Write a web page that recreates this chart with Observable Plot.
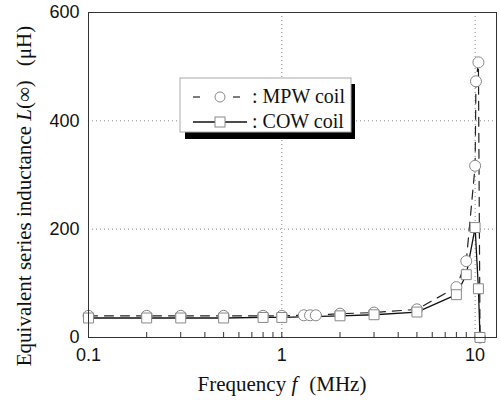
<!DOCTYPE html>
<html><head><meta charset="utf-8">
<script src="https://cdn.jsdelivr.net/npm/d3@7"></script>
<script src="https://cdn.jsdelivr.net/npm/@observablehq/plot@0.6"></script>
<style>body{margin:0;background:#fff}#chart{width:500px;height:400px}</style>
</head><body><div id="chart"></div>
<script>
// MPW coil (dashed line, circles)
const mpwFreq = [0.1, 0.2, 0.3, 0.5, 0.8, 1.0, 1.3, 1.4, 1.5, 2, 3, 5, 8, 9, 10, 10.1, 10.4, 10.6];
const mpwL    = [40, 40, 40, 40, 40, 40, 41, 41, 41, 44, 46, 52, 93, 141, 317, 473, 508, 0];
// COW coil (solid line, squares)
const cowFreq = [0.1, 0.2, 0.3, 0.5, 0.8, 1.0, 2, 3, 5, 8, 9, 10, 10.4, 10.6];
const cowL    = [36, 36, 36, 36, 37, 37, 40, 42, 47, 79, 116, 203, 90, 0];

const xTicks = [0.1, 1, 10];
const xTickLabels = ["0.1", "1", "10"];
const xMinorTicks = [0.2, 0.3, 0.4, 0.5, 0.6, 0.7, 0.8, 0.9, 1, 2, 3, 4, 5, 6, 7, 8, 9, 10];
const yTicks = [0, 200, 400, 600];
const yTickLabels = ["0", "200", "400", "600"];
const xGrid = [1, 10];
const yGrid = [200, 400];
const seriesNames = [": MPW coil", ": COW coil"];

const mpw = mpwFreq.map((f, i) => ({f, L: mpwL[i]}));
const cow = cowFreq.map((f, i) => ({f, L: cowL[i]}));

const mT = 12, mB = 63, mL = 88, mR = 4, H = 400;
const plot = Plot.plot({
  width: 500, height: H,
  marginTop: mT, marginBottom: mB, marginLeft: mL, marginRight: mR,
  style: {fontFamily: "'Liberation Sans', Arial, sans-serif", fontSize: "18px", background: "white", color: "#111"},
  x: {type: "log", domain: [0.1, 12.9]},
  y: {domain: [0, 600]},
  marks: [
    Plot.gridX(xGrid, {stroke: "#888", strokeOpacity: 1, strokeDasharray: "1,3"}),
    Plot.gridY(yGrid, {stroke: "#888", strokeOpacity: 1, strokeDasharray: "1,3"}),
    Plot.ruleX(xMinorTicks, {stroke: "#333", insetTop: H - mT - mB - 5}),
    Plot.line(mpw, {x: "f", y: "L", stroke: "#222", strokeWidth: 1.2, strokeDasharray: "9,7"}),
    Plot.line(cow, {x: "f", y: "L", stroke: "#111", strokeWidth: 1.3}),
    Plot.dot(mpw, {x: "f", y: "L", r: 5.5, stroke: "#888", fill: "white", strokeWidth: 1}),
    Plot.dot(cow, {x: "f", y: "L", r: 5.6, symbol: "square", stroke: "#888", fill: "white", strokeWidth: 1}),
    Plot.frame({stroke: "#333"}),
    Plot.axisX(xTicks, {tickSize: 0, tickPadding: 11, label: null, tickFormat: d => xTickLabels[xTicks.indexOf(d)]}),
    Plot.axisY(yTicks, {tickSize: 0, tickPadding: 9, label: null, tickFormat: d => yTickLabels[yTicks.indexOf(d)]})
  ]
});
document.getElementById("chart").appendChild(plot);

const svg = d3.select(plot);
const serif = "'Liberation Serif', 'Times New Roman', serif";
// axis titles
const xt = svg.append("text").attr("x", 282).attr("y", 391).attr("text-anchor", "middle")
  .attr("font-family", serif).attr("font-size", 21).attr("fill", "#111");
xt.append("tspan").text("Frequency ");
xt.append("tspan").attr("font-style", "italic").text("f");
xt.append("tspan").attr("dx", 12).text("(MHz)");
const yt = svg.append("text").attr("transform", "translate(31,196) rotate(-90)").attr("text-anchor", "middle")
  .attr("font-family", serif).attr("font-size", 21).attr("fill", "#111");
yt.append("tspan").text("Equivalent series inductance ");
yt.append("tspan").attr("font-style", "italic").text("L");
yt.append("tspan").text("(∞)");
yt.append("tspan").attr("dx", 14).text("(μH)");

// legend
const lg = svg.append("g").attr("text-anchor", "start");
lg.append("rect").attr("x", 185).attr("y", 84).attr("width", 170).attr("height", 55).attr("fill", "black");
lg.append("rect").attr("x", 180).attr("y", 78).attr("width", 171).attr("height", 54).attr("fill", "white").attr("stroke", "#aaa");
// row 1
lg.append("line").attr("x1", 193).attr("x2", 200).attr("y1", 97).attr("y2", 97).attr("stroke", "#222").attr("stroke-width", 1.2);
lg.append("line").attr("x1", 233).attr("x2", 240).attr("y1", 97).attr("y2", 97).attr("stroke", "#222").attr("stroke-width", 1.2);
lg.append("circle").attr("cx", 220).attr("cy", 97).attr("r", 5).attr("fill", "white").attr("stroke", "#888");
lg.append("text").attr("x", 252).attr("y", 103).attr("text-anchor", "start").attr("font-family", serif).attr("font-size", 20).attr("fill", "#111").text(seriesNames[0]);
// row 2
lg.append("line").attr("x1", 193).attr("x2", 247).attr("y1", 122).attr("y2", 122).attr("stroke", "#111").attr("stroke-width", 1.3);
lg.append("rect").attr("x", 215).attr("y", 117).attr("width", 10).attr("height", 10).attr("fill", "white").attr("stroke", "#888");
lg.append("text").attr("x", 252).attr("y", 128).attr("text-anchor", "start").attr("font-family", serif).attr("font-size", 20).attr("fill", "#111").text(seriesNames[1]);
</script></body></html>
